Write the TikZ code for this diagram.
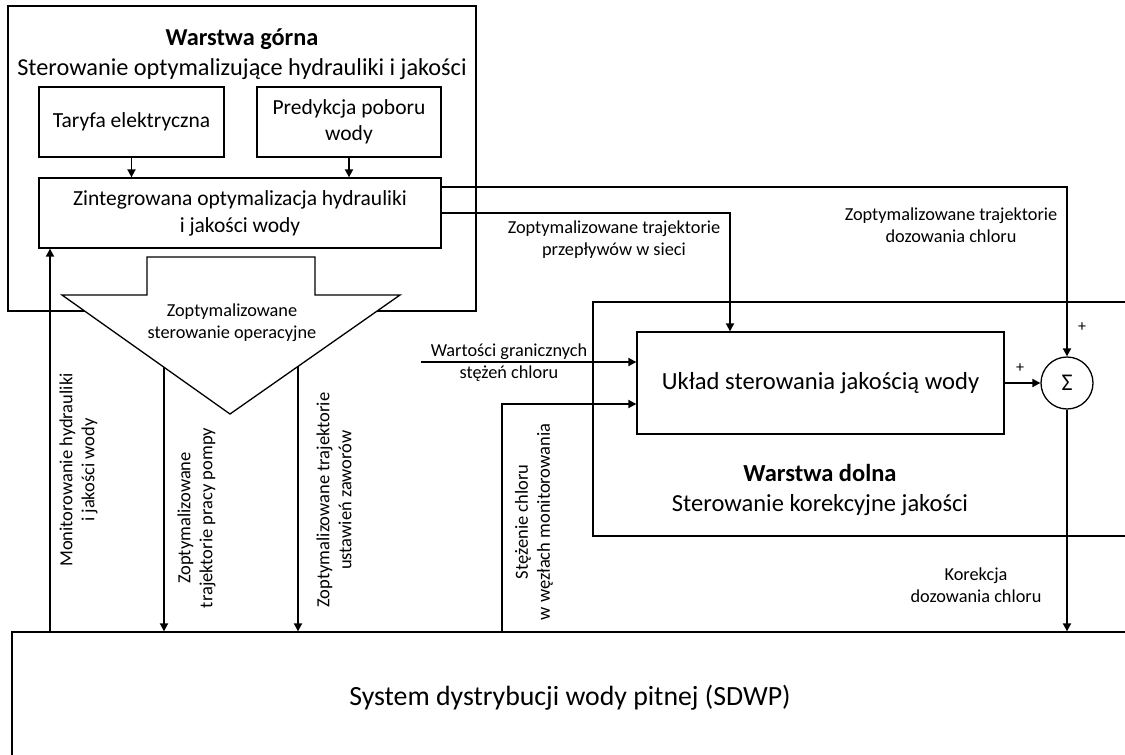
\documentclass[tikz,border=0pt]{standalone}
\usepackage{fontspec}
\setmainfont{Carlito}
\usetikzlibrary{arrows.meta}
\begin{document}
\begin{tikzpicture}[x=1pt,y=-1pt,
  box/.style={draw, line width=1.3pt, rectangle, inner sep=0pt},
  conn/.style={line width=1.8pt, -{Triangle[length=8pt,width=8pt]}},
  txt/.style={inner sep=0pt, align=center},
  headfont/.style={txt, font=\fontsize{24.3}{30}\selectfont},
  lowfont/.style={txt, font=\fontsize{24.5}{30}\selectfont},
  boxfont/.style={txt, font=\fontsize{21.5}{27}\selectfont},
  lblfont/.style={txt, font=\fontsize{18.3}{22}\selectfont},
  vlbl/.style={txt, font=\fontsize{18.5}{22}\selectfont, rotate=90},
  plus/.style={txt, font=\fontsize{16}{16}\selectfont}
]
\useasboundingbox (0,0) rectangle (1125,755);
\clip (0,0) rectangle (1125,755);

% upper layer frame and its blocks
\node[box, minimum width=468pt, minimum height=305pt] (upper) at (242,158.5) {};
\node[headfont] (upTitle) at (242,54) {\textbf{Warstwa górna}\\Sterowanie optymalizujące hydrauliki i jakości};
\node[box, minimum width=185pt, minimum height=70pt, boxfont] (taryfa) at (131.5,122) {Taryfa elektryczna};
\node[box, minimum width=184pt, minimum height=70pt, boxfont, font=\fontsize{21.5}{26}\selectfont] (pred) at (349,122) {Predykcja poboru\\wody};
\node[box, minimum width=402pt, minimum height=70pt, boxfont] (zint) at (240,213) {Zintegrowana optymalizacja hydrauliki\\i jakości wody};

% broad arrow of the operational control
\draw[line width=1.3pt, fill=white] (147,257) -- (315,257) -- (315,295) -- (400,295)
  -- (230,414) -- (62,295) -- (147,295) -- cycle;
\node[lblfont] (opCtl) at (232,323) {Zoptymalizowane\\sterowanie operacyjne};
\coordinate (pumpTop) at (164,367.2);
\coordinate (valveTop) at (298,366.4);

% lower layer frame and its blocks
\node[box, minimum width=560pt, minimum height=234pt] (lower) at (873,419) {};
\node[lowfont] (lowTitle) at (820,490) {\textbf{Warstwa dolna}\\Sterowanie korekcyjne jakości};
\node[box, minimum width=367pt, minimum height=102pt, font=\fontsize{24.6}{27}\selectfont] (ukl) at (820.5,383) {Układ sterowania jakością wody};
\node[draw, circle, line width=1.3pt, minimum size=52pt, inner sep=0pt, font=\fontsize{24}{24}\selectfont] (sum) at (1067,383) {Σ};

% distribution system
\node[box, minimum width=1140pt, minimum height=140pt] (sdwp) at (582,702) {};
\node[txt, font=\fontsize{27.8}{30}\selectfont] (sdwpText) at (570,698) {System dystrybucji wody pitnej (SDWP)};

% connectors of the upper layer
\draw[conn] (taryfa.south) -- (zint.north -| taryfa.south);
\draw[conn] (pred.south) -- (zint.north -| pred.south);
\draw[conn] (zint.east |- 0,187) -| (sum.north);
\draw[conn] (zint.east |- 0,213) -| (ukl.north -| 730,0);
\draw[conn] (sdwp.north -| 50,0) -- (zint.south -| 50,0);
\draw[conn] (pumpTop) -- (sdwp.north -| pumpTop);
\draw[conn] (valveTop) -- (sdwp.north -| valveTop);

% connectors of the lower layer
\coordinate (limIn) at (421,362);
\draw[conn] (limIn) -- (ukl.west |- limIn);
\draw[conn] (sdwp.north -| 502,0) |- (ukl.west |- 0,404);
\draw[conn] (ukl.east) -- (sum.west);
\draw[conn] (sum.south) -- (sdwp.north -| sum.south);

% connector labels
\node[lblfont] (lblFlow) at (614,240) {Zoptymalizowane trajektorie\\przepływów w sieci};
\node[lblfont] (lblDose) at (951,225) {Zoptymalizowane trajektorie\\dozowania chloru};
\node[lblfont] (lblLim) at (509,363) {Wartości granicznych\\stężeń chloru};
\node[lblfont] (lblCorr) at (976,585) {Korekcja\\dozowania chloru};
\node[plus] (plusTop) at (1082,327) {+};
\node[plus] (plusLeft) at (1020,368) {+};

\node[vlbl] (lblMon) at (78.5,470) {Monitorowanie hydrauliki\\i jakości wody};
\node[vlbl] (lblPump) at (196.5,518) {Zoptymalizowane\\trajektorie pracy pompy};
\node[vlbl] (lblValve) at (334,500) {Zoptymalizowane trajektorie\\ustawień zaworów};
\node[vlbl] (lblChl) at (534,522) {Stężenie chloru\\w węzłach monitorowania};
\end{tikzpicture}
\end{document}
